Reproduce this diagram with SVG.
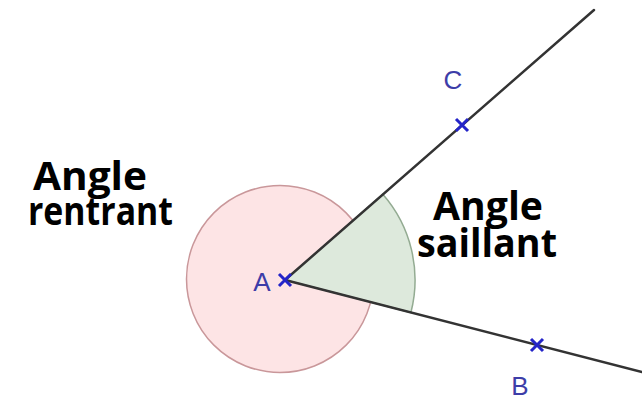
<svg xmlns="http://www.w3.org/2000/svg" width="642" height="401" viewBox="0 0 642 401">
<style>
.lbl{font-family:"Open Sans","Liberation Sans",sans-serif;font-weight:bold;font-size:39px;fill:#000}
.pt{font-family:"Liberation Sans","DejaVu Sans",sans-serif;font-size:26px;fill:#3d3da8}
.ray{stroke:#333;stroke-width:2.5;fill:none;stroke-linecap:round}
.x{stroke:#2424c8;stroke-width:3;fill:none}
</style>
<defs>
<path id="cross" d="M-6,-6 L6,6 M-6,6 L6,-6" class="x"/>
</defs>
<rect width="642" height="401" fill="#fff"/>
<g id="reflex-angle">
<circle cx="280" cy="279" r="93.5" fill="#fde4e5" stroke="#c9979a" stroke-width="1.5"/>
</g>
<g id="salient-angle">
<path d="M285,280 L382.8,194.3 A130,130 0 0 1 410.9,312.5 Z" fill="#dde9dc" stroke="#93ab92" stroke-width="1.5"/>
</g>
<g id="connectors">
<line class="ray" x1="285" y1="280" x2="594" y2="10"/>
<line class="ray" x1="285" y1="280" x2="642" y2="372"/>
</g>
<g id="A">
<use href="#cross" x="285" y="280"/>
<text class="pt" x="262" y="291" text-anchor="middle">A</text>
</g>
<g id="C">
<use href="#cross" x="462" y="125"/>
<text class="pt" x="453" y="89" text-anchor="middle">C</text>
</g>
<g id="B">
<use href="#cross" x="537" y="345"/>
<text class="pt" x="520" y="395" text-anchor="middle">B</text>
</g>
<g id="label-rentrant">
<text class="lbl" x="33" y="190" textLength="114" lengthAdjust="spacingAndGlyphs">Angle</text>
<text class="lbl" x="28" y="225" textLength="145" lengthAdjust="spacingAndGlyphs">rentrant</text>
</g>
<g id="label-saillant">
<text class="lbl" x="433" y="220" textLength="110" lengthAdjust="spacingAndGlyphs">Angle</text>
<text class="lbl" x="417" y="257" textLength="140" lengthAdjust="spacingAndGlyphs">saillant</text>
</g>
</svg>
